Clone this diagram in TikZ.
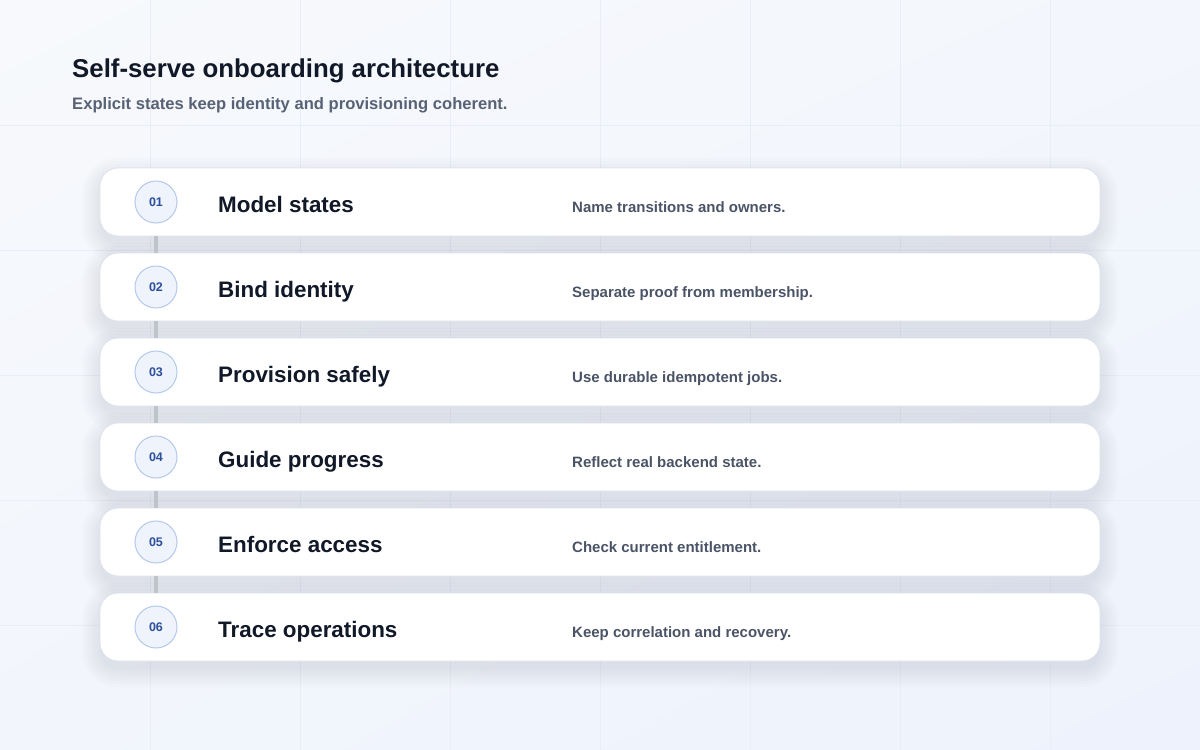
\documentclass[tikz,border=0pt]{standalone}
\usepackage{fontspec}
\setmainfont{Liberation Sans}
\usetikzlibrary{shadings}
\definecolor{bgtop}{HTML}{F7F9FC}
\definecolor{bgbot}{HTML}{EDF2FC}
\definecolor{gridline}{HTML}{E9EDF4}
\definecolor{shadowink}{HTML}{3A4A70}
\definecolor{ink}{HTML}{111827}
\definecolor{subink}{HTML}{586275}
\definecolor{descink}{HTML}{4A5466}
\definecolor{cardline}{HTML}{DCE2EC}
\definecolor{numfill}{HTML}{EEF3FC}
\definecolor{numline}{HTML}{B5C9EA}
\definecolor{numink}{HTML}{2C4F9C}
\definecolor{railgray}{HTML}{BFC3CA}

\begin{document}
\begin{tikzpicture}[x=1pt,y=-1pt,
  card/.style={draw=cardline, fill=white, line width=0.8pt, rounded corners=18pt,
    minimum width=1000pt, minimum height=68pt, inner sep=0pt},
  numdot/.style={circle, draw=numline, fill=numfill, line width=1pt, minimum size=42pt, inner sep=0pt,
    text=numink, font=\bfseries\fontsize{12.5}{12.5}\selectfont},
  steptitle/.style={anchor=base west, inner sep=0pt, text=ink, font=\bfseries\fontsize{22.4}{22}\selectfont},
  stepnote/.style={anchor=base west, inner sep=0pt, text=descink, font=\bfseries\fontsize{15}{15}\selectfont},
  rail/.style={draw=railgray, line width=3.4pt}]

\useasboundingbox (0,0) rectangle (1200,750);
\shade[upper left=bgtop, upper right=bgtop!60!bgbot, lower left=bgtop!50!bgbot, lower right=bgbot] (0,0) rectangle (1200,750);

% faint background grid
\foreach \gx in {150,300,...,1050}
  \draw[gridline, line width=0.6pt] (\gx,0) -- (\gx,750);
\foreach \gy in {125,250,...,625}
  \draw[gridline, line width=0.6pt] (0,\gy) -- (1200,\gy);

\node[anchor=base west, inner sep=0pt, text=ink, font=\bfseries\fontsize{25.8}{26}\selectfont] (title) at (72,77) {Self-serve onboarding architecture};
\node[anchor=base west, inner sep=0pt, text=subink, font=\bfseries\fontsize{16.6}{17}\selectfont] (subtitle) at (72,109.5) {Explicit states keep identity and provisioning coherent.};

\foreach \t/\d [count=\i] in {Model states/Name transitions and owners.,
    Bind identity/Separate proof from membership.,
    Provision safely/Use durable idempotent jobs.,
    Guide progress/Reflect real backend state.,
    Enforce access/Check current entitlement.,
    Trace operations/Keep correlation and recovery.}{
  \pgfmathsetmacro{\y}{202+85*(\i-1)}
  % soft shadow under the card
  \foreach \s in {0,3,...,18}
    \fill[shadowink, opacity=0.016, rounded corners=18pt+\s pt]
      (100-\s,\y-26-\s) rectangle (1100+\s,\y+42+\s);
  \node[card] (card\i) at (600,\y) {};
  \node[numdot] (num\i) at (156,\y) {0\i};
  \node[steptitle] (name\i) at (218,\y+10) {\t};
  \node[stepnote] (note\i) at (572,\y+10) {\d};
}

% rail between the steps
\foreach \i [evaluate=\i as \j using int(\i+1)] in {1,...,5}
  \draw[rail] (card\i.south -| num\i) -- (card\j.north -| num\j);

\end{tikzpicture}
\end{document}
